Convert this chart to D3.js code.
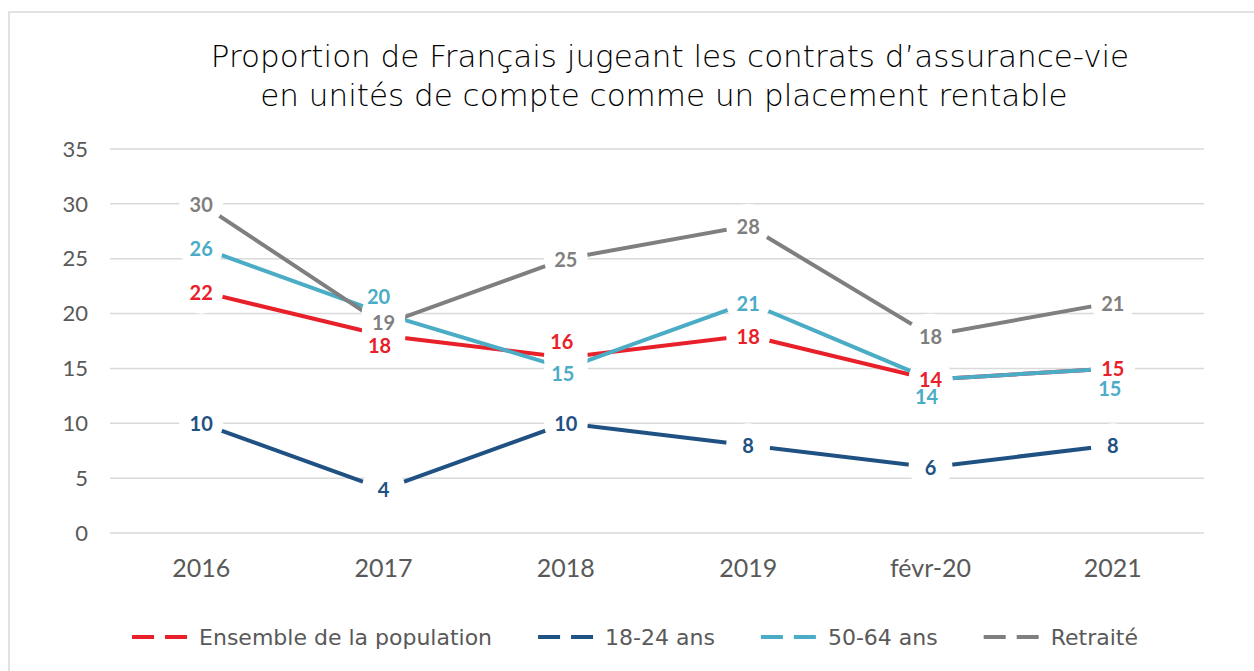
<!DOCTYPE html>
<html>
<head>
<meta charset="utf-8">
<script src="https://cdn.jsdelivr.net/npm/d3@7"></script>
<style>
  body { margin: 0; background: #fff; }
  svg text { font-family: "Lato", "DejaVu Sans", sans-serif; }
</style>
</head>
<body>
<div id="chart"></div>
<script>
// data
var years = ["2016", "2017", "2018", "2019", "févr-20", "2021"];
var ensemble = [22, 18, 16, 18, 14, 15];
var jeunes = [10, 4, 10, 8, 6, 8];
var seniors = [26, 20, 15, 21, 14, 15];
var retraites = [30, 19, 25, 28, 18, 21];
var seriesNames = ["Ensemble de la population", "18-24 ans", "50-64 ans", "Retraité"];
var yTicks = [0, 5, 10, 15, 20, 25, 30, 35];

var colors = ["#e8202a", "#1f5183", "#4bacc6", "#7f7f7f"];
var allSeries = [ensemble, jeunes, seniors, retraites];

// label nudges, so the labels don't sit on each other (dx, dy)
var nudge = {
  "0-1": [-4, 10], "0-2": [-4, -15],
  "2-1": [-5, -17], "2-2": [-3, 6], "2-4": [-4, 18], "2-5": [-3, 21],
  "3-1": [0, -2]
};

var width = 1254, height = 671;
var margin = {top: 149, right: 50, bottom: 138, left: 110};

var svg = d3.select("#chart")
  .append("svg")
    .attr("width", width)
    .attr("height", height);

// chart frame
svg.append("rect")
  .attr("x", 9).attr("y", 12)
  .attr("width", width + 20).attr("height", height + 20)
  .attr("fill", "none")
  .attr("stroke", "#d9d9d9")
  .attr("stroke-width", 1.5);

// title
var title = svg.append("text")
  .attr("text-anchor", "middle")
  .attr("fill", "#000")
  .style("font-family", "'DejaVu Sans', sans-serif")
  .style("font-weight", "300")
  .style("font-size", "31px");
title.append("tspan").attr("x", 670).attr("y", 67)
  .text("Proportion de Français jugeant les contrats d’assurance-vie");
title.append("tspan").attr("x", 664).attr("y", 106)
  .text("en unités de compte comme un placement rentable");

var x = d3.scaleBand()
  .domain(years)
  .range([margin.left, width - margin.right]);

var y = d3.scaleLinear()
  .domain([0, 35])
  .range([height - margin.bottom, margin.top]);

// gridlines
svg.append("g")
  .selectAll("line")
  .data(yTicks)
  .enter()
  .append("line")
    .attr("x1", margin.left)
    .attr("x2", width - margin.right)
    .attr("y1", function(d) { return y(d); })
    .attr("y2", function(d) { return y(d); })
    .attr("stroke", "#d9d9d9")
    .attr("stroke-width", 1.5);

// y axis labels
svg.append("g")
  .selectAll("text")
  .data(yTicks)
  .enter()
  .append("text")
    .attr("x", 88)
    .attr("y", function(d) { return y(d); })
    .attr("dy", "0.35em")
    .attr("text-anchor", "end")
    .attr("fill", "#595959")
    .style("font-size", "22px")
    .text(function(d) { return d; });

// x axis labels
svg.append("g")
  .selectAll("text")
  .data(years)
  .enter()
  .append("text")
    .attr("x", function(d) { return x(d) + x.bandwidth() / 2; })
    .attr("y", 568)
    .attr("dy", "0.35em")
    .attr("text-anchor", "middle")
    .attr("fill", "#595959")
    .style("font-size", "25px")
    .text(function(d) { return d; });

var line = d3.line()
  .x(function(d, i) { return x(years[i]) + x.bandwidth() / 2; })
  .y(function(d) { return y(d); });

// lines
svg.append("g")
  .selectAll("path")
  .data(allSeries)
  .enter()
  .append("path")
    .attr("d", line)
    .attr("fill", "none")
    .attr("stroke", function(d, i) { return colors[i]; })
    .attr("stroke-width", 4);

// flatten points for markers and labels
var points = [];
allSeries.forEach(function(s, si) {
  s.forEach(function(v, i) {
    points.push({s: si, i: i, v: v});
  });
});

// big white markers, they cut the lines near each point
svg.append("g")
  .selectAll("circle")
  .data(points)
  .enter()
  .append("circle")
    .attr("cx", function(d) { return x(years[d.i]) + x.bandwidth() / 2; })
    .attr("cy", function(d) { return y(d.v); })
    .attr("r", 22)
    .attr("fill", "#fff");

// data labels
svg.append("g")
  .selectAll("text")
  .data(points)
  .enter()
  .append("text")
    .attr("x", function(d) {
      var n = nudge[d.s + "-" + d.i] || [0, 0];
      return x(years[d.i]) + x.bandwidth() / 2 + n[0];
    })
    .attr("y", function(d) {
      var n = nudge[d.s + "-" + d.i] || [0, 1];
      return y(d.v) + n[1];
    })
    .attr("dy", "0.35em")
    .attr("text-anchor", "middle")
    .attr("fill", function(d) { return colors[d.s]; })
    .style("font-size", "20px")
    .style("font-weight", "bold")
    .text(function(d) { return d.v; });

// legend, built then centred
var legend = svg.append("g");
var lx = 0;
seriesNames.forEach(function(name, i) {
  var item = legend.append("g").attr("transform", "translate(" + lx + ",0)");
  item.append("line")
    .attr("x1", 0).attr("x2", 55)
    .attr("stroke", colors[i])
    .attr("stroke-width", 4)
    .attr("stroke-dasharray", "22,11");
  var t = item.append("text")
    .attr("x", 67)
    .attr("dy", "0.35em")
    .attr("fill", "#595959")
    .style("font-family", "'DejaVu Sans', sans-serif")
    .style("font-size", "22px")
    .text(name);
  lx += 67 + t.node().getComputedTextLength() + (i < seriesNames.length - 1 ? 46 : 0);
});
legend.attr("transform", "translate(" + (635 - lx / 2) + ",637)");
</script>
</body>
</html>
